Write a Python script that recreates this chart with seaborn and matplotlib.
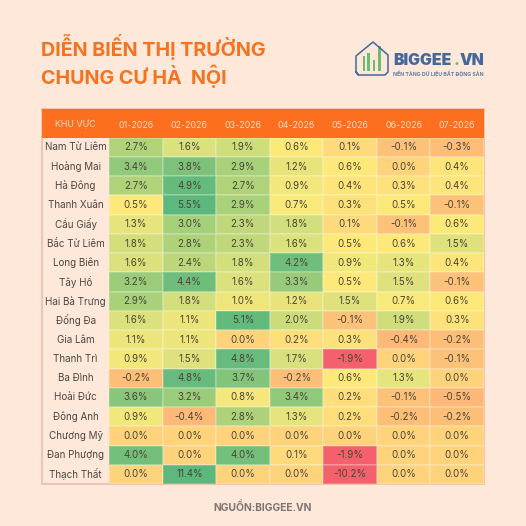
import matplotlib
matplotlib.use("Agg")
import matplotlib.pyplot as plt
from matplotlib.colors import LinearSegmentedColormap, Normalize
from matplotlib.patches import Rectangle
import numpy as np
import seaborn as sns

areas = ["Nam Từ Liêm", "Hoàng Mai", "Hà Đông", "Thanh Xuân", "Cầu Giấy", "Bắc Từ Liêm",
         "Long Biên", "Tây Hồ", "Hai Bà Trưng", "Đống Đa", "Gia Lâm", "Thanh Trì",
         "Ba Đình", "Hoài Đức", "Đông Anh", "Chương Mỹ", "Đan Phượng", "Thạch Thất"]
months = ["01-2026", "02-2026", "03-2026", "04-2026", "05-2026", "06-2026", "07-2026"]

m01 = [2.7, 3.4, 2.7, 0.5, 1.3, 1.8, 1.6, 3.2, 2.9, 1.6, 1.1, 0.9, -0.2, 3.6, 0.9, 0.0, 4.0, 0.0]
m02 = [1.6, 3.8, 4.9, 5.5, 3.0, 2.8, 2.4, 4.4, 1.8, 1.1, 1.1, 1.5, 4.8, 3.2, -0.4, 0.0, 0.0, 11.4]
m03 = [1.9, 2.9, 2.7, 2.9, 2.3, 2.3, 1.8, 1.6, 1.0, 5.1, 0.0, 4.8, 3.7, 0.8, 2.8, 0.0, 4.0, 0.0]
m04 = [0.6, 1.2, 0.9, 0.7, 1.8, 1.6, 4.2, 3.3, 1.2, 2.0, 0.2, 1.7, -0.2, 3.4, 1.3, 0.0, 0.1, 0.0]
m05 = [0.1, 0.6, 0.4, 0.3, 0.1, 0.5, 0.9, 0.5, 1.5, -0.1, 0.3, -1.9, 0.6, 0.2, 0.2, 0.0, -1.9, -10.2]
m06 = [-0.1, 0.0, 0.3, 0.5, -0.1, 0.6, 1.3, 1.5, 0.7, 1.9, -0.4, 0.0, 1.3, -0.1, -0.2, 0.0, 0.0, 0.0]
m07 = [-0.3, 0.4, 0.4, -0.1, 0.6, 1.5, 0.4, -0.1, 0.6, 0.3, -0.2, -0.1, 0.0, -0.5, -0.2, 0.0, 0.0, 0.0]

values = np.array([m01, m02, m03, m04, m05, m06, m07]).T
labels = np.array([[f"{v:.1f}%" for v in row] for row in values])

BG = "#fde8da"
ORANGE = "#fb6f1f"

sns.set_theme(style="white")
plt.rcParams["font.family"] = ["Inter", "Noto Sans", "DejaVu Sans"]

fig = plt.figure(figsize=(5.26, 5.26), dpi=100, facecolor=BG)

# backdrop in pixel coords, so the header and logo are easy to line up
back = fig.add_axes([0, 0, 1, 1], zorder=-1)
back.set_xlim(0, 526)
back.set_ylim(526, 0)
back.axis("off")

back.add_patch(Rectangle((41.5, 108.5), 442.5, 375.5, fc=BG, ec="#eebcaa", lw=1.2))
back.add_patch(Rectangle((41.5, 108.5), 442.5, 29.2, fc=ORANGE, ec="none"))
back.text(75.5, 123.8, "KHU VỰC", color="#fbd8c0", fontsize=6.4, ha="center", va="center")

# title
back.text(41, 47, "DIỄN BIẾN THỊ TRƯỜNG", color="#f5731f", fontsize=14.2, fontweight="bold", va="center")
back.text(41, 76, "CHUNG CƯ HÀ  NỘI", color="#f5731f", fontsize=14.2, fontweight="bold", va="center")

# logo
back.plot([358, 356, 356, 373, 388, 388, 385, 359, 356], [75, 72, 56, 42, 55, 72, 75, 75, 72],
          color="#44689b", lw=1.1, solid_joinstyle="round")
for bx, btop in [(362.5, 56), (367, 53), (372.5, 60), (378, 46)]:
    back.add_patch(Rectangle((bx, btop), 2.8, 71 - btop, fc="#6dbb6f", ec="none"))
back.text(393, 60.5, "BIGGEE", color="#44689b", fontsize=11.4, fontweight="black", va="center")
back.text(454, 60.5, ".", color="#6dbb6f", fontsize=11.4, fontweight="black", va="center")
back.text(459.2, 60.5, "VN", color="#44689b", fontsize=11.4, fontweight="black", va="center")
back.text(393, 74, "NỀN TẢNG DỮ LIỆU BẤT ĐỘNG SẢN", color="#5f7ba3", fontsize=3.7,
          fontweight="bold", va="center")

# source line
back.text(263, 507, "NGUỒN:BIGGEE.VN", color="#7d746f", fontsize=7.4, fontweight="bold",
          ha="center", va="center")

# heatmap occupies the body of the table
ax = fig.add_axes([109 / 526, 1 - 484 / 526, 375 / 526, (484 - 137.7) / 526])

cmap = LinearSegmentedColormap.from_list("market", [
    (0.0, "#f4606b"),
    (1.4 / 7.4, "#fdb777"),
    (1.8 / 7.4, "#fdc279"),
    (1.9 / 7.4, "#fed67c"),
    (2.45 / 7.4, "#fde97a"),
    (3.4 / 7.4, "#dfe27c"),
    (4.9 / 7.4, "#a5d07a"),
    (5.9 / 7.4, "#74bf7b"),
    (1.0, "#5cb87c"),
])

sns.heatmap(values, ax=ax, cmap=cmap, norm=Normalize(-1.9, 5.5), cbar=False,
            annot=labels, fmt="", annot_kws={"fontsize": 7, "color": "#4a4436"},
            linewidths=0.2, linecolor="#ffffff30",
            xticklabels=months, yticklabels=areas)

ax.xaxis.tick_top()
ax.tick_params(axis="x", length=0, pad=5.5, labelsize=6.4, labelcolor="#fbd8c0")
ax.tick_params(axis="y", length=0, pad=24, labelsize=7.1, labelcolor="#4d4642")
plt.setp(ax.get_xticklabels(), rotation=0)
plt.setp(ax.get_yticklabels(), rotation=0, ha="center")
ax.set_xlabel("")
ax.set_ylabel("")

fig.savefig("out.png", dpi=100, facecolor=BG)
